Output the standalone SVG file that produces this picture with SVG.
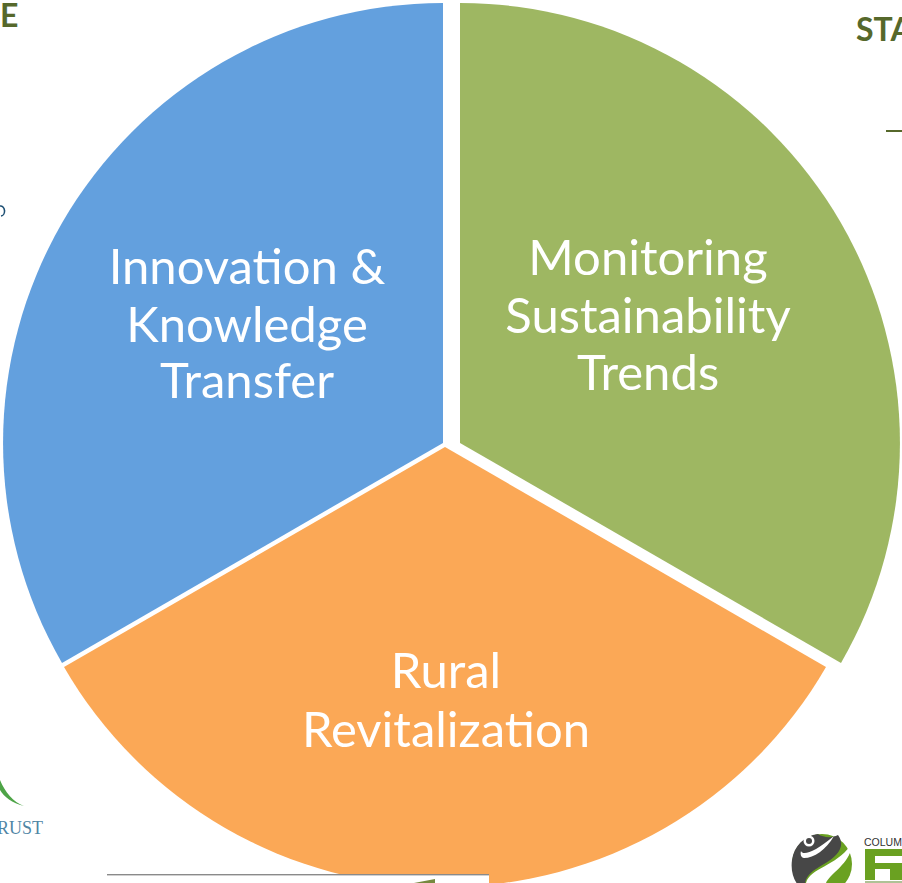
<svg xmlns="http://www.w3.org/2000/svg" width="902" height="883" viewBox="0 0 902 883">
<style>
.l{font-family:Lato,"Open Sans","Liberation Sans",sans-serif;font-size:49px;fill:#fff;text-anchor:middle}
.h{font-family:Lato,"Open Sans","Liberation Sans",sans-serif;font-size:32px;font-weight:700;fill:#56682b}
</style>
<rect width="902" height="883" fill="#fff"/>
<g id="background">
<text class="h" x="0" y="27">E</text>
<text class="h" x="856" y="41">STA</text>
<rect x="886" y="130" width="16" height="2" fill="#56682b"/>
<path d="M0 206a4 5 0 0 1 1 10" fill="none" stroke="#1d4f73" stroke-width="1.6"/>
<path d="M0 780C5 792 13 802 24 806C12 803 4 797 0 790Z" fill="#4ea447"/>
<text x="-3" y="834" font-family="Liberation Serif,serif" font-size="18" fill="#4f86a5">RUST</text>
<g id="logo">
<circle cx="822" cy="864" r="30" fill="#6aa121"/>
<path d="M838 835C846 846 838 856 824 864C810 872 802 878 806 892C796 886 790 875 792 860C794 846 804 836 818 834C824 838 832 838 838 835Z" fill="#474747"/>
<circle cx="809" cy="841" r="5.5" fill="#fff"/>
<circle cx="809" cy="841" r="3" fill="#474747"/>
<path d="M801 851C803 856 815 852 834 836C826 850 814 858 804 858C801 858 800 854 801 851Z" fill="#fff"/>
<path d="M806 883C810 868 836 866 850 846L851 850C846 866 830 874 826 883Z" fill="#fff"/>
<text x="864" y="846" font-family="Liberation Sans,sans-serif" font-size="10.5" fill="#333">COLUM</text>
<path d="M865 849H902V880H890V869H875V880H865Z" fill="#6aa121"/>
<rect x="875" y="856" width="27" height="7" fill="#fff"/>
<rect x="865" y="881" width="37" height="2" fill="#7a9a50" opacity="0.6"/>
</g>
</g>
<g id="innovation">
<path d="M443 3V443L62 663A440 440 0 0 1 443 3Z" fill="#63a0de"/>
<text class="l"><tspan x="247" y="284">Innovation &amp;</tspan><tspan x="247" y="342">Knowledge</tspan><tspan x="247" y="398">Transfer</tspan></text>
</g>
<g id="monitoring">
<path d="M460 3V443L841 663A440 440 0 0 0 460 3Z" fill="#9eb762"/>
<text class="l"><tspan x="648" y="275">Monitoring</tspan><tspan x="648" y="333">Sustainability</tspan><tspan x="648" y="390">Trends</tspan></text>
</g>
<g id="rural">
<path d="M445 447L826 667A440 440 0 0 1 64 667Z" fill="#fba856"/>
<text class="l"><tspan x="446" y="688">Rural</tspan><tspan x="446" y="747">Revitalization</tspan></text>
</g>
<g id="foreground">
<rect x="107" y="874" width="382" height="10" fill="#fff"/>
<rect x="107" y="874" width="382" height="1.4" fill="#8a8a8a"/>
<path d="M414 883L435 879V883Z" fill="#76893f"/>
</g>
<g id="connectors"/>
</svg>
